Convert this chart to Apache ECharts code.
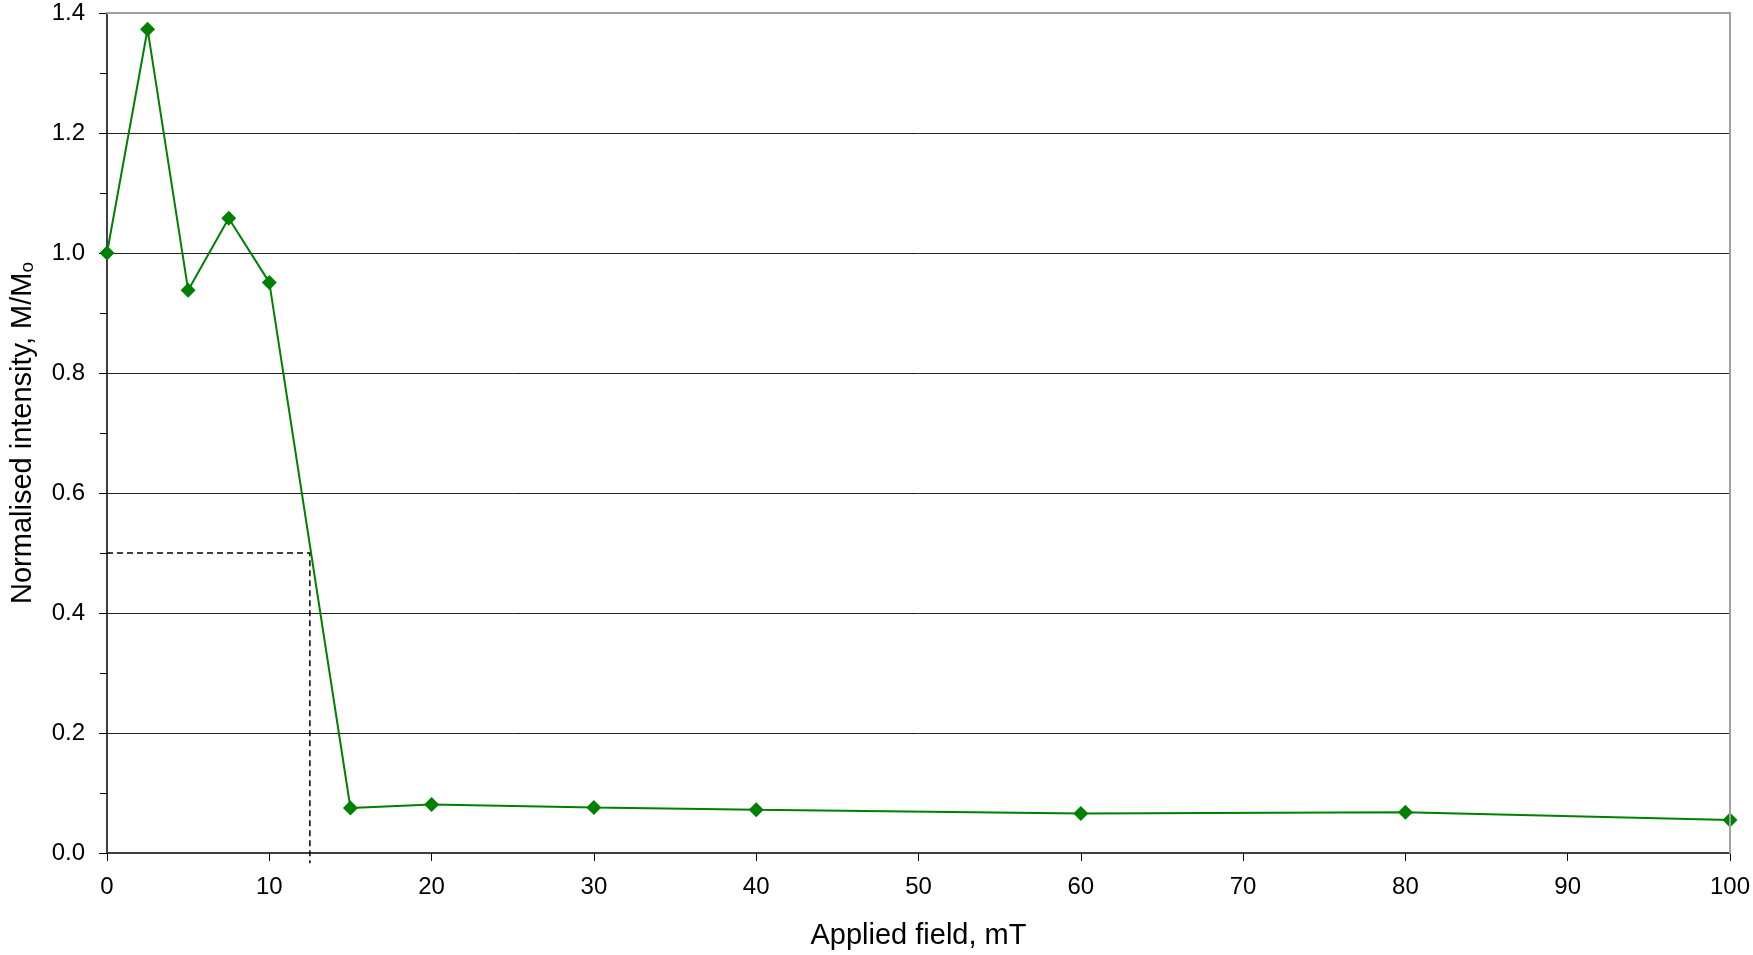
<!DOCTYPE html>
<html>
<head>
<meta charset="utf-8">
<script src="https://cdn.jsdelivr.net/npm/echarts@6/dist/echarts.min.js"></script>
<style>
html,body{margin:0;padding:0;background:#fff;}
#chart{width:1753px;height:955px;}
</style>
</head>
<body>
<div id="chart"></div>
<script>
// Data
var fieldMT = [0, 2.5, 5, 7.5, 10, 15, 20, 30, 40, 60, 80, 100];
var intensity = [1.0, 1.373, 0.938, 1.058, 0.951, 0.075, 0.081, 0.076, 0.072, 0.066, 0.068, 0.055];
// Median destructive field guide (dashed)
var guideX = [0, 12.5, 12.5, 12.5];
var guideY = [0.5, 0.5, 0, -0.017];
var xTicks = {min: 0, max: 100, interval: 10};
var yTicks = {min: 0, max: 1.4, interval: 0.2};
var xTitle = 'Applied field, mT';
var yTitle = 'Normalised intensity, M/M{sub|o}';

var font = '"Liberation Sans", Arial, sans-serif';
var chart = echarts.init(document.getElementById('chart'), null, {renderer: 'canvas'});

var mainData = fieldMT.map(function (x, i) { return [x, intensity[i]]; });
var guideData = guideX.map(function (x, i) { return [x, guideY[i]]; });

chart.setOption({
  animation: false,
  backgroundColor: '#ffffff',
  grid: {left: 105, right: 19, top: 13, bottom: 100, containLabel: false},
  xAxis: [{
    type: 'value',
    min: xTicks.min, max: xTicks.max, interval: xTicks.interval,
    name: xTitle,
    nameLocation: 'middle',
    nameGap: 68,
    nameTextStyle: {fontFamily: font, fontSize: 29, color: '#000'},
    axisLine: {show: true, onZero: false, lineStyle: {color: '#404040', width: 2}},
    axisTick: {show: true, inside: false, length: 8, lineStyle: {color: '#000', width: 1}},
    axisLabel: {fontFamily: font, fontSize: 24, color: '#000', margin: 22},
    splitLine: {show: false}
  }, {
    type: 'value',
    position: 'top',
    min: xTicks.min, max: xTicks.max,
    z: 5,
    axisLine: {show: true, onZero: false, lineStyle: {color: '#a0a0a0', width: 2}},
    axisTick: {show: false},
    axisLabel: {show: false},
    splitLine: {show: false}
  }],
  yAxis: [{
    type: 'value',
    min: yTicks.min, max: yTicks.max, interval: yTicks.interval,
    name: yTitle,
    nameLocation: 'middle',
    nameRotate: 90,
    nameGap: 70,
    nameTextStyle: {
      fontFamily: font, fontSize: 29, color: '#000',
      rich: {
        sub: {fontFamily: font, fontSize: 19, color: '#000', verticalAlign: 'bottom', lineHeight: 19}
      }
    },
    axisLine: {show: true, onZero: false, lineStyle: {color: '#404040', width: 2}},
    axisTick: {show: true, inside: false, length: 8, lineStyle: {color: '#000', width: 1}},
    minorTick: {show: true, splitNumber: 2, length: 7, lineStyle: {color: '#000', width: 1}},
    axisLabel: {fontFamily: font, fontSize: 24, color: '#000', margin: 22,
      formatter: function (v) { return v.toFixed(1); }},
    splitLine: {show: true, lineStyle: {color: '#222', width: 1}}
  }, {
    type: 'value',
    position: 'right',
    min: yTicks.min, max: yTicks.max,
    z: 5,
    axisLine: {show: true, onZero: false, lineStyle: {color: '#a0a0a0', width: 2}},
    axisTick: {show: false},
    axisLabel: {show: false},
    splitLine: {show: false}
  }],
  series: [{
    type: 'line',
    name: 'guide',
    data: guideData,
    xAxisIndex: 0, yAxisIndex: 0,
    clip: false,
    symbol: 'none',
    z: 3,
    lineStyle: {color: '#000', width: 1.5, type: [6, 4]}
  }, {
    type: 'line',
    name: 'M/Mo',
    data: mainData,
    xAxisIndex: 0, yAxisIndex: 0,
    symbol: 'diamond',
    symbolSize: 15,
    z: 4,
    lineStyle: {color: '#008000', width: 2},
    itemStyle: {color: '#008000'}
  }]
});
</script>
</body>
</html>
